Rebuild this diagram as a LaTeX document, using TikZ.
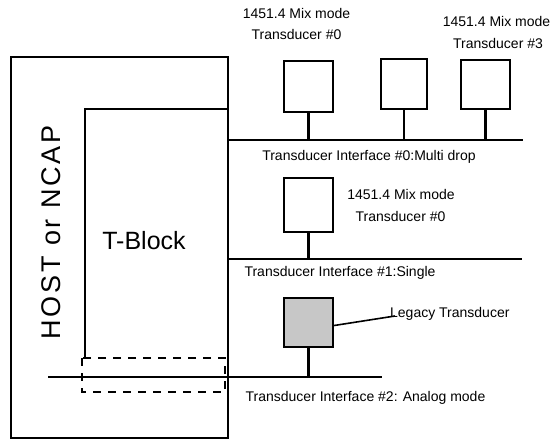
\documentclass[tikz,border=0pt]{standalone}
\usepackage{fontspec}
\setmainfont{Liberation Sans}
\begin{document}
\begin{tikzpicture}[x=1pt,y=-1pt,line width=2.3pt,
    lbl/.style={inner sep=0pt,anchor=base,font=\fontsize{14}{16}\selectfont},
    tbox/.style={draw,inner sep=0pt,minimum width=49pt,minimum height=50pt}]
    \useasboundingbox (0,0) rectangle (553,441);

    % HOST or NCAP
    \node[draw,inner sep=0pt,minimum width=217pt,minimum height=381pt] (host) at (119.5,247.5) {};
    \node[rotate=90,anchor=base,inner sep=0pt,font=\fontsize{27}{30}\selectfont\addfontfeature{LetterSpace=10}] (hostlbl) at (60,232.5) {HOST or NCAP};

    % T-Block
    \draw (85,358) -- (85,109) -- (228,109);
    \node[anchor=base,inner sep=0pt,font=\fontsize{25}{28}\selectfont] (tblock) at (144,249) {T-Block};

    % Interface #0: multi drop
    \coordinate (b0w) at (228,140);
    \coordinate (b0e) at (523,140);
    \draw (b0w) -- (b0e);
    \node[tbox,minimum height=51pt] (t0) at (308.5,86.5) {};
    \node[tbox,minimum width=46pt] (t1) at (404,84) {};
    \node[tbox,minimum height=49pt] (t3) at (485.5,84.5) {};
    \draw (t0.south) -- (t0.south |- b0w);
    \draw (t1.south) -- (t1.south |- b0w);
    \draw (t3.south) -- (t3.south |- b0w);
    \node[lbl] (t0a) at (296.5,19) {1451.4 Mix mode};
    \node[lbl] (t0b) at (296.5,40) {Transducer \#0};
    \node[lbl] (t3a) at (496.5,27) {1451.4 Mix mode};
    \node[lbl] (t3b) at (498,49) {Transducer \#3};
    \node[lbl] (if0) at (369,160) {Transducer Interface \#0:Multi drop};

    % Interface #1: single
    \coordinate (b1w) at (228,259);
    \coordinate (b1e) at (522,259);
    \draw (b1w) -- (b1e);
    \node[tbox,minimum height=54pt] (ts) at (308.5,205) {};
    \draw (ts.south) -- (ts.south |- b1w);
    \node[lbl] (tsa) at (401,199) {1451.4 Mix mode};
    \node[lbl] (tsb) at (400.5,221) {Transducer \#0};
    \node[lbl] (if1) at (340,276) {Transducer Interface \#1:Single};

    % Interface #2: analog mode
    \coordinate (b2w) at (48,377);
    \coordinate (b2e) at (382,377);
    \draw (b2w) -- (b2e);
    \node[tbox,fill=black!22,minimum height=49pt] (tl) at (308.5,322.5) {};
    \draw (tl.south) -- (tl.south |- b2w);
    \node[lbl,anchor=base west] (legacy) at (389,317) {Legacy Transducer};
    \draw[line width=1.6pt] ([yshift=-3pt]tl.east) -- ([xshift=6pt,yshift=1pt]legacy.base west);
    \node[lbl] (if2) at (365.5,401) {Transducer Interface \#2: Analog mode};

    % dashed region
    \draw[dash pattern=on 8pt off 7pt] (82,358) rectangle (225,392);
\end{tikzpicture}
\end{document}
